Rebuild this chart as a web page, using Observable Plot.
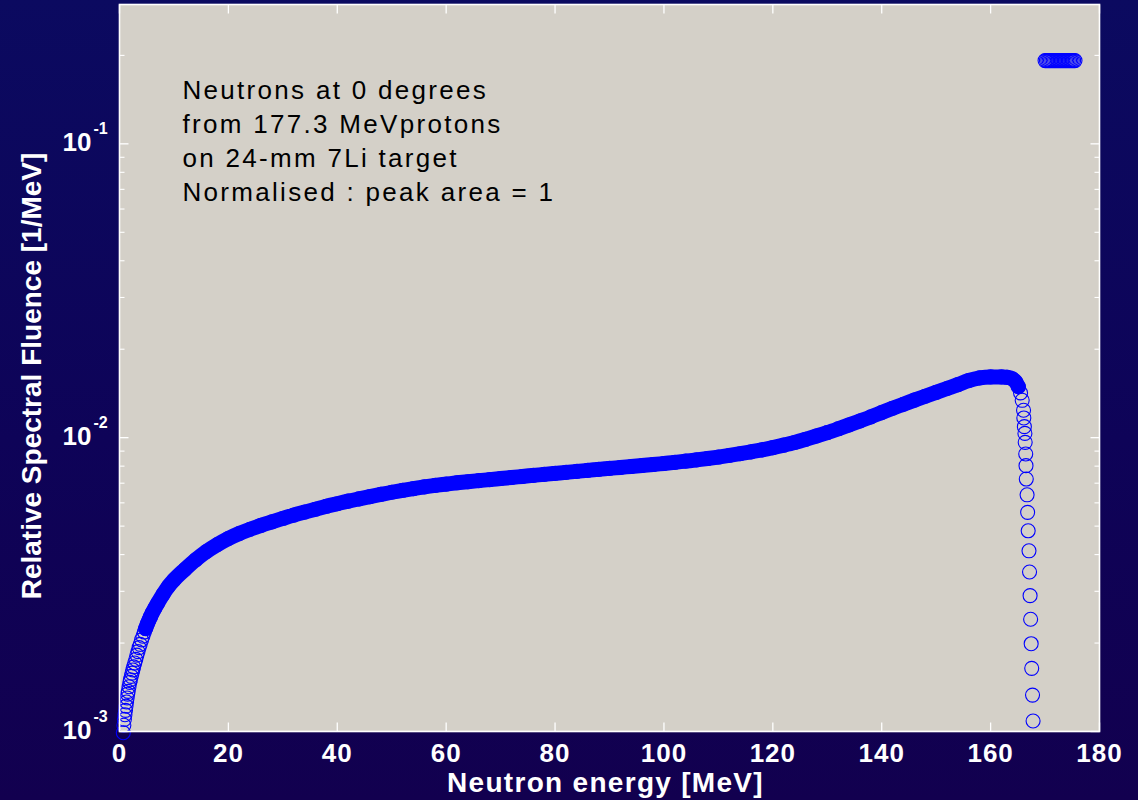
<!DOCTYPE html>
<html>
<head>
<meta charset="utf-8">
<script src="https://cdn.jsdelivr.net/npm/d3@7"></script>
<script src="https://cdn.jsdelivr.net/npm/@observablehq/plot@0.6"></script>
<style>
  html, body { margin: 0; padding: 0; overflow: hidden; background: #0e0358; }
</style>
</head>
<body>
<div id="chart"></div>
<script>
// ---- data ----
const energy = [
  0.7, 0.8, 0.9, 1.0, 1.1, 1.2, 1.3, 1.4, 1.5, 1.6, 1.75, 1.9, 2.0, 2.15, 2.3, 2.45, 2.6, 2.8, 3.0, 3.2,
  3.4, 3.6, 3.8, 4.05, 4.3, 4.55, 4.8, 5.1, 5.4, 5.7, 6, 6.5, 7, 8, 9, 10,
  12, 14, 16, 18, 20, 22, 24, 26, 28, 30, 32, 34, 36, 38, 40, 42, 44, 46, 48, 50,
  52, 54, 56, 58, 60, 62, 64, 66, 68, 70, 72, 74, 76, 78, 80, 82, 84, 86, 88, 90,
  92, 94, 96, 98, 100, 102, 104, 106, 108, 110, 112, 114, 116, 118, 120, 122, 124, 126, 128, 130,
  132, 134, 136, 138, 140, 142, 144, 146, 148, 150, 152, 154, 156, 158, 160, 162, 163, 164, 164.6, 165.1,
  165.5, 165.8,
  166.05, 166.1, 166.2, 166.3, 166.35, 166.45, 166.5, 166.55, 166.7, 166.8, 166.9, 167.05, 167.15, 167.25, 167.35, 167.45, 167.55, 167.7, 167.8
];
const fluence = [
  0.99e-3, 1.05e-3, 1.10e-3, 1.14e-3, 1.18e-3, 1.22e-3, 1.26e-3, 1.30e-3, 1.34e-3, 1.37e-3, 1.42e-3, 1.47e-3, 1.50e-3, 1.54e-3, 1.58e-3, 1.62e-3, 1.66e-3, 1.71e-3, 1.76e-3, 1.82e-3,
  1.87e-3, 1.93e-3, 1.98e-3, 2.05e-3, 2.11e-3, 2.18e-3, 2.24e-3, 2.32e-3, 2.39e-3, 2.46e-3, 2.53e-3, 2.63e-3, 2.73e-3, 2.93e-3, 3.12e-3, 3.28e-3,
  3.56e-3, 3.84e-3, 4.10e-3, 4.33e-3, 4.54e-3, 4.72e-3, 4.88e-3, 5.03e-3, 5.17e-3, 5.31e-3, 5.45e-3, 5.58e-3, 5.71e-3, 5.84e-3, 5.96e-3, 6.08e-3, 6.19e-3, 6.30e-3, 6.41e-3, 6.52e-3,
  6.62e-3, 6.71e-3, 6.80e-3, 6.88e-3, 6.95e-3, 7.02e-3, 7.08e-3, 7.14e-3, 7.20e-3, 7.26e-3, 7.32e-3, 7.38e-3, 7.44e-3, 7.50e-3, 7.56e-3, 7.62e-3, 7.68e-3, 7.74e-3, 7.80e-3, 7.86e-3,
  7.92e-3, 7.98e-3, 8.04e-3, 8.10e-3, 8.17e-3, 8.24e-3, 8.32e-3, 8.40e-3, 8.49e-3, 8.59e-3, 8.70e-3, 8.82e-3, 8.95e-3, 9.09e-3, 9.25e-3, 9.43e-3, 9.63e-3, 9.87e-3, 1.013e-2, 1.041e-2,
  1.072e-2, 1.105e-2, 1.140e-2, 1.177e-2, 1.218e-2, 1.260e-2, 1.300e-2, 1.342e-2, 1.384e-2, 1.426e-2, 1.470e-2, 1.515e-2, 1.565e-2, 1.598e-2, 1.610e-2, 1.610e-2, 1.605e-2, 1.585e-2, 1.55e-2, 1.49e-2,
  1.42e-2, 1.34e-2,
  1.24e-2, 1.167e-2, 1.09e-2, 1.034e-2, 9.64e-3, 8.80e-3, 8.03e-3, 7.23e-3, 6.39e-3, 5.57e-3, 4.82e-3, 4.12e-3, 3.49e-3, 2.90e-3, 2.41e-3, 1.99e-3, 1.64e-3, 1.33e-3, 1.086e-3
];
// cluster of points in the top-right corner
const clusterEnergy = [170.0, 170.25, 170.5, 170.75, 171.0, 171.25, 171.5, 171.75, 172.0, 172.25, 172.5, 172.75,
  173.0, 173.25, 173.5, 173.75, 174.0, 174.25, 174.5, 174.75, 175.0, 175.25, 175.5];
const clusterFluence = [0.192, 0.192, 0.192, 0.192, 0.192, 0.192, 0.192, 0.192, 0.192, 0.192, 0.192, 0.192,
  0.192, 0.192, 0.192, 0.192, 0.192, 0.192, 0.192, 0.192, 0.192, 0.192, 0.192];

const xTicks = [0, 20, 40, 60, 80, 100, 120, 140, 160, 180];
const yMajor = [0.001, 0.01, 0.1];
const yMajorBase = ["10", "10", "10"];
const yMajorExp = ["-3", "-2", "-1"];
const yMinor = [0.002, 0.003, 0.004, 0.005, 0.006, 0.007, 0.008, 0.009,
  0.02, 0.03, 0.04, 0.05, 0.06, 0.07, 0.08, 0.09, 0.2];

const noteLines = ["Neutrons at 0 degrees", "from 177.3 MeVprotons", "on 24-mm 7Li target", "Normalised : peak area = 1"];
const xTitle = "Neutron energy [MeV]";
const yTitle = "Relative Spectral Fluence [1/MeV]";

// ---- build ----
const spectrum = energy.map((E, i) => ({E, v: fluence[i]}));
const band = spectrum.filter(d => d.E >= 4.8 && d.E <= 165.1);
const cluster = clusterEnergy.map((E, i) => ({E, v: clusterFluence[i]}));

const FONT = "Liberation Sans, Arial, Helvetica, sans-serif";
const BLUE = "#0000ff";

const tick = (dx, dy) => ({draw(ctx) { ctx.moveTo(0, 0); ctx.lineTo(dx, dy); }});

const chart = Plot.plot({
  width: 1138,
  height: 800,
  marginLeft: 119,
  marginRight: 39,
  marginTop: 4,
  marginBottom: 69,
  x: {domain: [0, 180], axis: null},
  y: {type: "log", domain: [1e-3, 0.298], axis: null},
  style: {
    background: "linear-gradient(to bottom, #0b0a60 0%, #0e0358 55%, #12004f 100%)",
    fontFamily: FONT,
    overflow: "visible"
  },
  marks: [
    Plot.frame({fill: "#d4d0c8", stroke: null}),
    // dense part of the spectrum: overlapping markers merge into a solid band
    Plot.line(band, {x: "E", y: "v", stroke: BLUE, strokeWidth: 15, strokeLinecap: "round", strokeLinejoin: "round", curve: "monotone-x"}),
    Plot.dot(spectrum, {x: "E", y: "v", r: 7, stroke: BLUE, fill: "none", strokeWidth: 1.1}),
    Plot.dot(cluster, {x: "E", y: "v", r: 7, stroke: BLUE, fill: "none", strokeWidth: 1.1}),
    // inward ticks
    Plot.dot(xTicks, {x: d => d, frameAnchor: "bottom", symbol: tick(0, -9), stroke: "white", fill: "none", strokeWidth: 1.3}),
    Plot.dot(xTicks, {x: d => d, frameAnchor: "top", symbol: tick(0, 9), stroke: "white", fill: "none", strokeWidth: 1.3}),
    Plot.dot(yMajor, {y: d => d, frameAnchor: "left", symbol: tick(9, 0), stroke: "white", fill: "none", strokeWidth: 1.3}),
    Plot.dot(yMajor, {y: d => d, frameAnchor: "right", symbol: tick(-9, 0), stroke: "white", fill: "none", strokeWidth: 1.3}),
    Plot.dot(yMinor, {y: d => d, frameAnchor: "left", symbol: tick(5, 0), stroke: "white", fill: "none", strokeWidth: 1.1}),
    Plot.dot(yMinor, {y: d => d, frameAnchor: "right", symbol: tick(-5, 0), stroke: "white", fill: "none", strokeWidth: 1.1}),
    Plot.frame({stroke: "white", strokeWidth: 1.6}),
    // tick labels
    Plot.text(xTicks, {x: d => d, frameAnchor: "bottom", text: d => String(d), textAnchor: "middle", lineAnchor: "top", dy: 12,
      fill: "white", fontWeight: "bold", fontSize: 26, fontFamily: FONT}),
    Plot.text(yMajor, {y: d => d, frameAnchor: "left", text: (d, i) => yMajorBase[i], textAnchor: "end", lineAnchor: "middle",
      dx: -28, dy: -1, fill: "white", fontWeight: "bold", fontSize: 26, fontFamily: FONT}),
    Plot.text(yMajor, {y: d => d, frameAnchor: "left", text: (d, i) => yMajorExp[i], textAnchor: "start", lineAnchor: "middle",
      dx: -26, dy: -15, fill: "white", fontWeight: "bold", fontSize: 16, fontFamily: FONT}),
    // axis titles
    Plot.text([xTitle], {frameAnchor: "bottom", text: d => d, textAnchor: "middle", lineAnchor: "top", dy: 41, dx: -4,
      fill: "white", fontWeight: "bold", fontSize: 28, fontFamily: FONT}),
    Plot.text([yTitle], {frameAnchor: "left", text: d => d, rotate: -90, textAnchor: "middle", lineAnchor: "middle", dx: -87, dy: 8,
      fill: "white", fontWeight: "bold", fontSize: 28, fontFamily: FONT}),
    // annotation
    Plot.text([noteLines.join("\n")], {frameAnchor: "top-left", text: d => d, textAnchor: "start", lineAnchor: "top",
      dx: 63, dy: 70.5, lineHeight: 1.304, fill: "black", fontSize: 26, fontFamily: FONT})
  ]
});

// letter spacing (the reference text is set slightly wider than plain Arial)
const xTickStrings = xTicks.map(String);
d3.select(chart).selectAll("text").each(function() {
  const t = this.textContent;
  if (t.startsWith(noteLines[0])) this.style.letterSpacing = "2.3px";
  else if (t === xTitle) this.style.letterSpacing = "1.3px";
  else if (xTickStrings.includes(t)) this.style.letterSpacing = "1px";
});

document.getElementById("chart").appendChild(chart);
</script>
</body>
</html>
